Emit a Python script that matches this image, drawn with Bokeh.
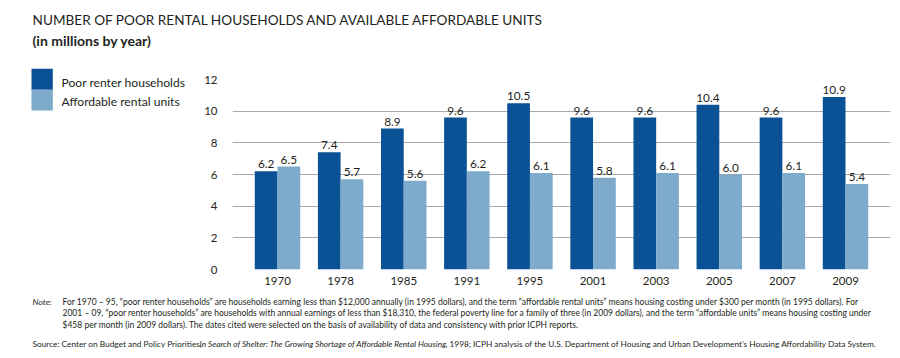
from bokeh.plotting import figure
from bokeh.models import ColumnDataSource, Range1d, FixedTicker
from bokeh.layouts import column, row
from bokeh.transform import dodge
from bokeh.core.properties import value
from bokeh.embed import file_html
from bokeh.resources import INLINE

years = ["1970", "1978", "1985", "1991", "1995", "2001", "2003", "2005", "2007", "2009"]
poor_renters = [6.2, 7.4, 8.9, 9.6, 10.5, 9.6, 9.6, 10.4, 9.6, 10.9]
affordable_units = [6.5, 5.7, 5.6, 6.2, 6.1, 5.8, 6.1, 6.0, 6.1, 5.4]
y_ticks = [0, 2, 4, 6, 8, 10, 12]
series_names = ["Poor renter households", "Affordable rental units"]

title_text = "NUMBER OF POOR RENTAL HOUSEHOLDS AND AVAILABLE AFFORDABLE UNITS"
subtitle_text = "(in millions by year)"
note_lines = [
    "For 1970 \u2013 95, \u201cpoor renter households\u201d are households earning less than $12,000 annually (in 1995 dollars), and the term \u201caffordable rental units\u201d means housing costing under $300 per month (in 1995 dollars). For",
    "2001 \u2013 09, \u201cpoor renter households\u201d are households with annual earnings of less than $18,310, the federal poverty line for a family of three (in 2009 dollars), and the term \u201caffordable units\u201d means housing costing under",
    "$458 per month (in 2009 dollars). The dates cited were selected on the basis of availability of data and consistency with prior ICPH reports.",
]
source_parts = [
    ("Source: Center on Budget and Policy Priorities,", "normal"),
    ("In Search of Shelter: The Growing Shortage of Affordable Rental Housing", "italic"),
    (", 1998; ICPH analysis of the U.S. Department of Housing and Urban Development\u2019s Housing Affordability Data System.", "normal"),
]

DARK = "#0b5195"
LIGHT = "#7eaacb"
TXT = "#231f20"
FONT = "Lato"
W = 900
HEAD_H, MID_H, FOOT_H = 66, 224, 68
LEG_W = 188


def blank(width, height):
    f = figure(width=width, height=height, output_backend="svg", toolbar_location=None,
               x_range=Range1d(0, width), y_range=Range1d(height, 0),
               x_axis_type=None, y_axis_type=None, title=None,
               min_border=0, min_border_left=0, min_border_right=0,
               min_border_top=0, min_border_bottom=0)
    f.outline_line_color = None
    f.grid.grid_line_color = None
    f.frame_align = False
    return f


def txt(f, x, y, t, size, style="normal", align="left"):
    f.text(x=[x], y=[y], text=[t], text_font=value(FONT), text_font_size=size,
           text_font_style=style, text_color=TXT, text_align=align, text_baseline="middle")


# ---------- header ----------
head = blank(W, HEAD_H)
txt(head, 32, 19, title_text, "13.6px")
txt(head, 32, 40, subtitle_text, "14px", "bold")

# ---------- legend ----------
leg = blank(LEG_W, MID_H)
leg.quad(left=[31], right=[52.3], top=[2.3], bottom=[23.3], fill_color=DARK, line_color=None)
leg.quad(left=[31], right=[52.3], top=[23.3], bottom=[44], fill_color=LIGHT, line_color=None)
txt(leg, 61, 15.7, series_names[0], "12.1px")
txt(leg, 61, 35, series_names[1], "12.1px")

# ---------- chart ----------
idx = list(range(len(years)))
src = ColumnDataSource(dict(
    i=idx,
    poor=poor_renters,
    aff=affordable_units,
    poor_lbl=["%.1f" % v for v in poor_renters],
    aff_lbl=["%.1f" % v for v in affordable_units],
))

CH_W = W - LEG_W
p = figure(width=CH_W, height=MID_H, output_backend="svg", toolbar_location=None,
           x_range=Range1d(-0.713, len(years) - 1 + 0.713),
           y_range=Range1d(0, 12), title=None,
           min_border_left=44, min_border_right=10, min_border_top=13, min_border_bottom=21)
p.outline_line_color = None
p.frame_align = False

p.vbar(x=dodge("i", -0.18), top="poor", width=0.36, source=src,
       fill_color=DARK, line_color=None)
p.vbar(x=dodge("i", 0.18), top="aff", width=0.36, source=src,
       fill_color=LIGHT, line_color=None)

p.text(x=dodge("i", -0.18), y="poor", text="poor_lbl", source=src,
       text_font=value(FONT), text_font_size="11.8px", text_color=TXT,
       text_align="center", text_baseline="bottom", y_offset=-3)
p.text(x=dodge("i", 0.18), y="aff", text="aff_lbl", source=src,
       text_font=value(FONT), text_font_size="11.8px", text_color=TXT,
       text_align="center", text_baseline="bottom", y_offset=-3)

p.xaxis.ticker = FixedTicker(ticks=idx)
p.xaxis.major_label_overrides = {i: y for i, y in zip(idx, years)}
p.yaxis.ticker = FixedTicker(ticks=y_ticks)
for ax in (p.xaxis[0], p.yaxis[0]):
    ax.axis_line_color = None
    ax.major_tick_line_color = None
    ax.minor_tick_line_color = None
    ax.major_tick_out = 0
    ax.major_tick_in = 0
    ax.minor_tick_out = 0
    ax.major_label_text_font = FONT
    ax.major_label_text_font_size = "11.5px"
    ax.major_label_text_color = TXT
p.yaxis.major_label_standoff = 15
p.xaxis.major_label_standoff = 7
p.xgrid.grid_line_color = None
p.ygrid.grid_line_color = "#a7a9ac"
p.ygrid.grid_line_width = 1

# ---------- footer ----------
foot = blank(W, FOOT_H)
NS = "8.5px"
txt(foot, 32, 11, "Note:", NS, "italic")
for k, line in enumerate(note_lines):
    txt(foot, 62, 11 + 11.8 * k, line, NS)
src_x = [32, 199, 445]
for (t, st), x0 in zip(source_parts, src_x):
    txt(foot, x0, 53, t, "8.3px", st)

layout = column(head, row(leg, p), foot)
open("out.html", "w").write(file_html(layout, INLINE))
